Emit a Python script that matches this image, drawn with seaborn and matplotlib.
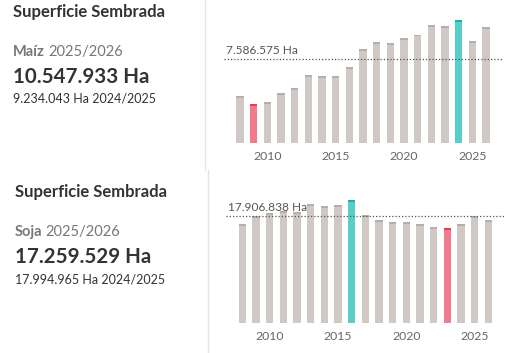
import numpy as np
import pandas as pd
import matplotlib
matplotlib.use("Agg")
import matplotlib.pyplot as plt
import seaborn as sns

# ---- data -------------------------------------------------------------
years = list(range(2008, 2027))
maiz_ha = [4.25e6, 3.52e6, 3.70e6, 4.52e6, 4.98e6, 6.16e6, 6.07e6, 6.07e6, 6.89e6,
           8.53e6, 9.16e6, 9.07e6, 9.53e6, 9.83e6, 10.71e6, 10.62e6, 11.17e6,
           9234043, 10547933]
soja_ha = [16.62e6, 17.96e6, 18.47e6, 18.80e6, 18.64e6, 19.98e6, 19.65e6, 19.82e6,
           20.66e6, 18.13e6, 17.29e6, 16.95e6, 16.95e6, 16.62e6, 16.11e6, 15.94e6,
           16.62e6, 17994965, 17259529]
maiz_avg = 7586575
soja_avg = 17906838
tick_years = [2010, 2015, 2020, 2025]

titles = ["Superficie Sembrada", "Superficie Sembrada"]
crops = ["Maíz", "Soja"]
campaign = "2025/2026"
prev_campaign = "2024/2025"
current_txt = ["10.547.933 Ha", "17.259.529 Ha"]
prev_txt = ["9.234.043 Ha", "17.994.965 Ha"]
avg_txt = ["7.586.575 Ha", "17.906.838 Ha"]

# ---- styling ----------------------------------------------------------
sns.set_style("white")
plt.rcParams["font.family"] = ["Lato", "DejaVu Sans"]

W, H = 518, 353
fig = plt.figure(figsize=(W / 100, H / 100), dpi=100)

main_pal = {"base": "#cfc8c5", "max": "#57cfc8", "min": "#f27a8c"}
cap_pal = {"base": "#b7aeaa", "max": "#13b3ac", "min": "#e83a5a"}


def px_axes(left, top, right, bottom):
    return fig.add_axes([left / W, 1 - bottom / H, (right - left) / W, (bottom - top) / H])


def draw_chart(ax, values, avg, label, ymax, xlim, cap_px, ax_h_px):
    df = pd.DataFrame({"year": [str(y) for y in years], "ha": values})
    df["kind"] = "base"
    df.loc[df["ha"].idxmax(), "kind"] = "max"
    df.loc[df["ha"].idxmin(), "kind"] = "min"
    cap = ymax / ax_h_px * cap_px
    df["body"] = df["ha"] - cap
    order = df["year"].tolist()
    caps = [cap_pal[k] for k in df["kind"]]
    mains = [main_pal[k] for k in df["kind"]]
    # full bar in the darker cap colour, body drawn over it
    sns.barplot(data=df, x="year", y="ha", hue="year", palette=caps, dodge=False,
                order=order, hue_order=order, width=0.54, saturation=1, linewidth=0,
                legend=False, ax=ax, zorder=2)
    sns.barplot(data=df, x="year", y="body", hue="year", palette=mains, dodge=False,
                order=order, hue_order=order, width=0.54, saturation=1, linewidth=0,
                legend=False, ax=ax, zorder=3)
    ax.axhline(avg, color="#555555", linestyle=(0, (1, 1.6)), linewidth=0.9, zorder=4)
    ax.text(xlim[0] + 0.15, avg + ymax * 0.025, label, fontsize=8.6, color="#555555",
            ha="left", va="bottom", zorder=5)
    ax.set_xlim(*xlim)
    ax.set_ylim(0, ymax)
    ax.set_xticks([years.index(y) for y in tick_years])
    ax.set_xticklabels([str(y) for y in tick_years])
    ax.tick_params(axis="x", length=0, pad=6, labelsize=8.8, labelcolor="#666666")
    ax.set_yticks([])
    ax.set_xlabel("")
    ax.set_ylabel("")
    sns.despine(ax=ax, left=True, bottom=True)


ax_top = px_axes(224, 10, 503, 142.7)
draw_chart(ax_top, maiz_ha, maiz_avg, avg_txt[0], 12.07e6, (-1.17, 19.24), 1.8, 132.7)

ax_bot = px_axes(226, 190, 505, 322.7)
draw_chart(ax_bot, soja_ha, soja_avg, avg_txt[1], 22.33e6, (-1.19, 19.22), 1.8, 132.7)

# ---- KPI text ---------------------------------------------------------
def kpi(x0, y_title, y_crop, y_big, y_prev, i):
    fig.text(x0 / W, 1 - y_title / H, titles[i], fontsize=12, fontweight="bold",
             color="#333333", va="center", ha="left")
    t = fig.text(x0 / W, 1 - y_crop / H, crops[i], fontsize=10.5, fontweight="bold",
                 color="#777777", va="center", ha="left")
    fig.canvas.draw()
    bb = t.get_window_extent()
    fig.text((bb.x1 + 3) / W, 1 - y_crop / H, campaign, fontsize=10.5,
             color="#777777", va="center", ha="left")
    fig.text(x0 / W, 1 - y_big / H, current_txt[i], fontsize=14.8, fontweight="bold",
             color="#333333", va="center", ha="left")
    fig.text(x0 / W, 1 - y_prev / H, f"{prev_txt[i]} {prev_campaign}", fontsize=9,
             color="#333333", va="center", ha="left")


kpi(13, 12, 52, 77, 99, 0)
kpi(15, 191.5, 232, 257, 279, 1)

# divider lines
fig.add_artist(plt.Line2D([205 / W, 205 / W], [1, 1 - 170 / H], color="#e4e4e4", lw=1))
fig.add_artist(plt.Line2D([207.5 / W, 207.5 / W], [1 - 170 / H, 0], color="#e4e4e4", lw=1))

fig.savefig("out.png", dpi=100)
